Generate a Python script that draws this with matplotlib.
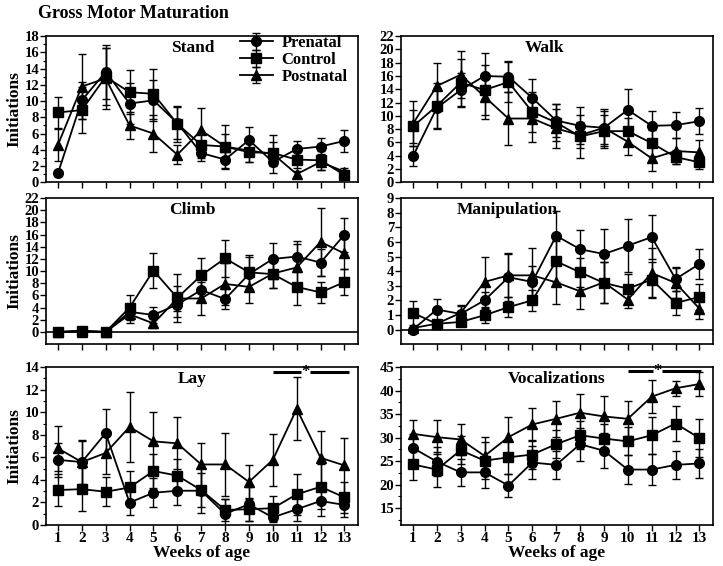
"""Gross motor maturation: initiations per week for three groups."""

import matplotlib
matplotlib.use('Agg')
import matplotlib.pyplot as plt
from matplotlib.ticker import MultipleLocator

WEEKS = list(range(1, 14))
GROUPS = ['Prenatal', 'Control', 'Postnatal']
MARKERS = ['o', 's', '^']

# Stand
STAND_PRE = [1.1, 10.1, 13.6, 9.7, 10.1, 7.3, 3.6, 2.8, 5.2, 2.5, 4.1, 4.4, 5.1]
STAND_PRE_ERR = [0.3, 2.3, 3.3, 2.5, 2.5, 2.0, 1.0, 1.2, 1.6, 0.5, 1.0, 1.0, 1.4]
STAND_CON = [8.6, 8.9, 13.0, 11.1, 10.9, 7.2, 4.6, 4.4, 3.7, 3.6, 2.8, 2.7, 0.9]
STAND_CON_ERR = [1.9, 2.8, 3.5, 2.7, 3.1, 2.2, 1.6, 1.5, 1.2, 1.4, 1.0, 1.2, 0.4]
STAND_POST = [4.6, 11.8, 12.8, 7.0, 6.0, 3.4, 6.4, 4.4, 3.9, 3.5, 1.0, 2.5, 1.3]
STAND_POST_ERR = [2.0, 4.0, 3.8, 1.7, 2.3, 1.2, 2.8, 2.6, 1.4, 2.3, 0.4, 1.0, 0.5]

# Walk
WALK_PRE = [3.9, 11.2, 13.9, 16.0, 15.9, 12.7, 9.3, 8.5, 8.2, 10.9, 8.5, 8.6, 9.2]
WALK_PRE_ERR = [1.5, 3.0, 2.5, 3.5, 2.3, 2.8, 2.5, 2.8, 2.8, 3.2, 2.3, 2.0, 2.0]
WALK_CON = [8.4, 11.5, 15.0, 13.9, 15.1, 10.6, 9.0, 6.9, 7.7, 7.7, 5.9, 3.8, 3.0]
WALK_CON_ERR = [2.5, 3.5, 3.5, 3.8, 3.0, 3.0, 2.8, 3.3, 2.5, 2.0, 2.0, 1.0, 1.0]
WALK_POST = [8.8, 14.5, 16.2, 12.9, 9.6, 9.6, 8.1, 7.1, 8.2, 6.1, 3.6, 4.7, 4.5]
WALK_POST_ERR = [3.4, 3.5, 3.5, 3.3, 4.0, 3.5, 3.0, 2.0, 2.5, 2.0, 1.9, 2.0, 1.8]

# Climb
CLIMB_PRE = [0.0, 0.2, 0.0, 3.3, 2.8, 4.5, 6.9, 5.4, 9.5, 12.0, 12.4, 11.4, 16.0]
CLIMB_PRE_ERR = [0.1, 0.1, 0.1, 1.0, 1.3, 2.1, 1.8, 1.6, 2.8, 2.7, 2.5, 2.2, 2.8]
CLIMB_CON = [0.0, 0.2, 0.0, 4.0, 10.1, 5.6, 9.3, 12.1, 9.8, 9.5, 7.4, 6.5, 8.2]
CLIMB_CON_ERR = [0.1, 0.3, 0.1, 2.0, 2.9, 4.0, 2.8, 3.0, 2.8, 2.3, 2.9, 1.7, 2.1]
CLIMB_POST = [0.0, 0.0, 0.0, 2.9, 1.4, 5.5, 5.5, 7.9, 7.4, 9.6, 10.6, 14.8, 12.9]
CLIMB_POST_ERR = [0.1, 0.1, 0.1, 1.4, 0.8, 2.0, 2.7, 3.5, 2.6, 2.3, 3.9, 5.6, 2.5]

# Manipulation
MANIP_PRE = [0.0, 1.37, 1.07, 2.0, 3.58, 3.26, 6.42, 5.5, 5.17, 5.74, 6.33, 3.46, 4.49]
MANIP_PRE_ERR = [0.1, 0.7, 0.6, 0.6, 1.6, 1.1, 1.7, 1.3, 1.7, 1.8, 1.5, 0.8, 1.0]
MANIP_CON = [1.14, 0.39, 0.52, 0.98, 1.53, 2.0, 4.67, 3.92, 3.19, 2.8, 3.42, 1.82, 2.23]
MANIP_CON_ERR = [0.8, 0.2, 0.2, 0.5, 0.7, 0.7, 1.4, 1.0, 1.4, 1.0, 1.2, 0.8, 0.9]
MANIP_POST = [0.1, 0.4, 1.14, 3.26, 3.71, 3.71, 3.23, 2.62, 3.23, 2.05, 3.87, 3.19, 1.43]
MANIP_POST_ERR = [0.1, 0.2, 0.5, 1.7, 1.5, 1.9, 1.5, 1.2, 1.4, 0.6, 1.7, 1.0, 0.7]

# Lay
LAY_PRE = [5.78, 5.58, 8.15, 1.99, 2.86, 3.04, 3.04, 0.99, 1.84, 0.67, 1.4, 2.13, 1.78]
LAY_PRE_ERR = [1.5, 1.9, 2.15, 1.1, 1.3, 1.3, 2.0, 1.3, 1.5, 0.4, 1.0, 1.3, 1.1]
LAY_CON = [3.1, 3.18, 2.95, 3.33, 4.79, 4.38, 3.1, 1.34, 1.4, 1.49, 2.72, 3.39, 2.45]
LAY_CON_ERR = [1.4, 1.9, 1.3, 1.5, 1.5, 1.5, 1.5, 1.0, 1.0, 1.1, 1.8, 2.0, 1.4]
LAY_POST = [6.8, 5.58, 6.39, 8.7, 7.42, 7.24, 5.37, 5.37, 3.82, 5.78, 10.3, 5.96, 5.28]
LAY_POST_ERR = [2.0, 2.0, 1.9, 3.1, 2.6, 2.3, 1.9, 2.8, 1.5, 2.3, 2.8, 2.4, 2.4]

# Vocalizations
VOC_PRE = [27.8, 24.9, 22.6, 22.6, 19.8, 24.7, 24.2, 28.6, 27.2, 23.2, 23.2, 24.2, 24.5]
VOC_PRE_ERR = [3.0, 3.0, 2.8, 3.3, 2.5, 3.5, 3.0, 3.5, 3.7, 3.0, 3.3, 3.0, 3.1]
VOC_CON = [24.3, 23.2, 27.3, 25.1, 25.8, 26.4, 28.6, 30.5, 29.8, 29.2, 30.5, 33.0, 29.9]
VOC_CON_ERR = [3.3, 3.7, 3.0, 4.0, 3.5, 3.0, 3.0, 3.0, 3.0, 3.0, 3.9, 3.7, 4.0]
VOC_POST = [30.8, 30.1, 29.6, 26.1, 30.1, 32.8, 34.0, 35.3, 34.5, 34.0, 38.7, 40.5, 41.4]
VOC_POST_ERR = [3.0, 3.6, 3.4, 4.0, 4.2, 3.6, 3.8, 4.0, 4.4, 3.7, 3.5, 1.6, 2.6]


def set_style() -> None:
    size = 10.5
    plt.rc('font', size=size)
    plt.rc('axes', labelsize=12.5, linewidth=1.2)
    plt.rc('xtick', labelsize=11, direction='out')
    plt.rc('ytick', labelsize=size, direction='out')
    plt.rc('legend', fontsize=12)
    plt.rcParams['font.family'] = 'serif'
    plt.rcParams['font.serif'] = ['Liberation Serif', 'DejaVu Serif']
    plt.rcParams['font.weight'] = 'bold'
    plt.rcParams['axes.labelweight'] = 'bold'


def draw_panel(ax, series, title, title_x, ylim, yticks, minor=None,
               zero_line=False):
    for (mean, err), marker, label in zip(series, MARKERS, GROUPS):
        ax.errorbar(WEEKS, mean, yerr=err, fmt=marker + '-', color='black',
                    markersize=7, linewidth=1.3, elinewidth=1.0, capsize=3,
                    capthick=1.0, label=label)
    ax.set_xlim(0.5, 13.55)
    ax.set_ylim(*ylim)
    ax.set_xticks(WEEKS)
    ax.set_yticks(yticks)
    if minor:
        ax.yaxis.set_minor_locator(MultipleLocator(minor))
    ax.tick_params(axis='both', which='major', length=4, width=1.0, pad=1)
    ax.tick_params(axis='y', which='minor', length=2.5, width=0.8)
    if zero_line:
        ax.axhline(0, color='black', linewidth=1.2)
    ax.text(title_x, 0.975, title, transform=ax.transAxes, ha='center',
            va='top', fontsize=12.5, fontweight='bold')


def sig_bar(ax, x0, x1, xstar, y, gap):
    ax.plot([x0, xstar - gap], [y, y], color='black', linewidth=2.2,
            solid_capstyle='butt', clip_on=False)
    ax.plot([xstar + gap, x1], [y, y], color='black', linewidth=2.2,
            solid_capstyle='butt', clip_on=False)
    ax.text(xstar, y, '*', ha='center', va='center', fontsize=12,
            fontweight='bold')


def main():
    set_style()
    fig = plt.figure(figsize=(7.23, 5.66), dpi=100)

    left_l, left_r, width = 0.0636, 0.5546, 0.431
    ax_stand = fig.add_axes([left_l, 0.678, width, 0.258])
    ax_walk = fig.add_axes([left_r, 0.678, width, 0.258])
    ax_climb = fig.add_axes([left_l, 0.392, width, 0.258])
    ax_manip = fig.add_axes([left_r, 0.392, width, 0.258])
    ax_lay = fig.add_axes([left_l, 0.0724, width, 0.279])
    ax_voc = fig.add_axes([left_r, 0.0724, width, 0.279])

    draw_panel(ax_stand, [(STAND_PRE, STAND_PRE_ERR), (STAND_CON, STAND_CON_ERR),
                          (STAND_POST, STAND_POST_ERR)],
               'Stand', 0.47, (0, 18), range(0, 19, 2), minor=1)
    draw_panel(ax_walk, [(WALK_PRE, WALK_PRE_ERR), (WALK_CON, WALK_CON_ERR),
                         (WALK_POST, WALK_POST_ERR)],
               'Walk', 0.46, (0, 22), range(0, 23, 2))
    draw_panel(ax_climb, [(CLIMB_PRE, CLIMB_PRE_ERR), (CLIMB_CON, CLIMB_CON_ERR),
                          (CLIMB_POST, CLIMB_POST_ERR)],
               'Climb', 0.47, (-2, 22), range(0, 23, 2), zero_line=True)
    draw_panel(ax_manip, [(MANIP_PRE, MANIP_PRE_ERR), (MANIP_CON, MANIP_CON_ERR),
                          (MANIP_POST, MANIP_POST_ERR)],
               'Manipulation', 0.34, (-1, 9), range(0, 10), zero_line=True)
    draw_panel(ax_lay, [(LAY_PRE, LAY_PRE_ERR), (LAY_CON, LAY_CON_ERR),
                        (LAY_POST, LAY_POST_ERR)],
               'Lay', 0.47, (0, 14), range(0, 15, 2), minor=1)
    draw_panel(ax_voc, [(VOC_PRE, VOC_PRE_ERR), (VOC_CON, VOC_CON_ERR),
                        (VOC_POST, VOC_POST_ERR)],
               'Vocalizations', 0.5, (11.4, 45), range(15, 46, 5), minor=2.5)

    for ax in (ax_stand, ax_walk, ax_climb, ax_manip):
        ax.tick_params(axis='x', labelbottom=False)
    for ax in (ax_lay, ax_voc):
        ax.set_xlabel('Weeks of age', labelpad=0)
    for ax in (ax_stand, ax_climb, ax_lay):
        ax.set_ylabel('Initiations', labelpad=1)

    ax_stand.legend(loc='upper right', bbox_to_anchor=(1.0, 1.075), frameon=False,
                    handlelength=2.0, handletextpad=0.5, labelspacing=0.05,
                    borderaxespad=0.2)

    sig_bar(ax_lay, 10.0, 13.2, 11.38, 13.55, 0.18)
    sig_bar(ax_voc, 10.0, 13.05, 11.25, 44.2, 0.18)

    fig.text(0.052, 0.977, 'Gross Motor Maturation', ha='left', va='center',
             fontsize=13, fontweight='bold')

    plt.savefig('out.png', dpi=100)
    plt.close()


if __name__ == '__main__':
    main()
